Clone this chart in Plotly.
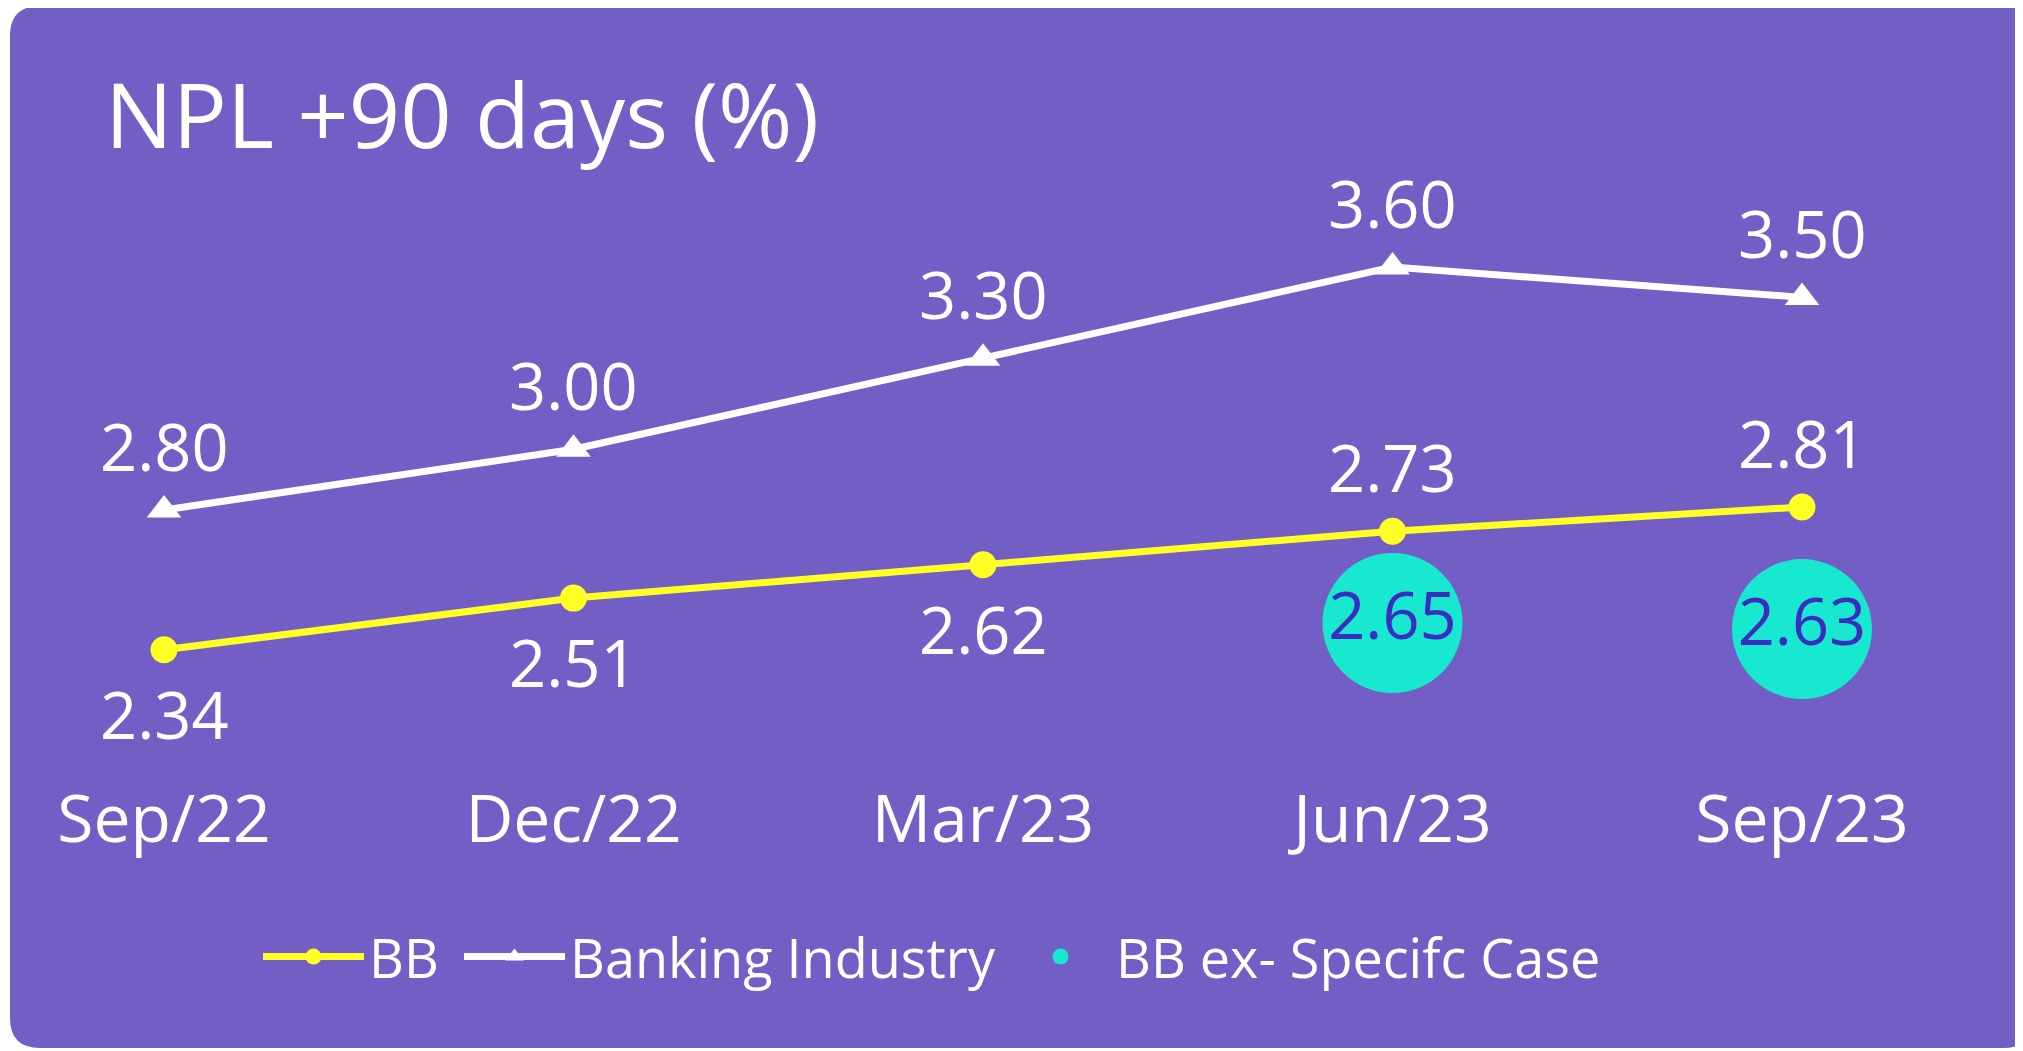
import plotly.graph_objects as go

# ---------------- data ----------------
categories = ["Sep/22", "Dec/22", "Mar/23", "Jun/23", "Sep/23"]
bb_values = [2.34, 2.51, 2.62, 2.73, 2.81]
banking_values = [2.80, 3.00, 3.30, 3.60, 3.50]
bb_ex_categories = ["Jun/23", "Sep/23"]
bb_ex_values = [2.65, 2.63]

series_names = ["BB", "Banking Industry", "BB ex- Specifc Case"]
title_text = "NPL +90 days (%)"

# ---------------- style ----------------
W, H = 2023, 1051
PURPLE = "#735EC6"
YELLOW = "#FFFF26"
WHITE = "#FFFFFF"
TEAL = "#19E8D1"
BUBBLE_TEXT = "#3A2DC0"
FONT = "Open Sans"

BB_LABEL_SIDE = [-1, -1, -1, 1, 1]   # -1 below, +1 above
LABEL_SHIFT = 64
LABEL_SIZE = 65

# plot area (figure pixels)
X_RANGE = [-0.38, 4.4]
X_DOMAIN_PX = [0.4, 1957.8]
Y_RANGE = [1.9276, 3.9852]
Y_DOMAIN_PX = [142, 767]       # top, bottom
BUBBLE_OFFSET = 0.222          # bubbles drawn below the BB line

fig = go.Figure()

fig.add_trace(go.Scatter(
    x=categories, y=bb_values, name=series_names[0],
    mode="lines+markers",
    line=dict(color=YELLOW, width=7),
    marker=dict(color=YELLOW, size=27, symbol="circle"),
    legendwidth=85,
    hoverinfo="skip",
))
fig.add_trace(go.Scatter(
    x=categories, y=banking_values, name=series_names[1],
    mode="lines+markers",
    line=dict(color=WHITE, width=7),
    marker=dict(color=WHITE, size=30, symbol="triangle-up"),
    legendwidth=430,
    hoverinfo="skip",
))
fig.add_trace(go.Scatter(
    x=bb_ex_categories, y=bb_ex_values, name=series_names[2],
    mode="markers+text", yaxis="y2",
    marker=dict(color=TEAL, size=140, line=dict(width=0)),
    text=[f"{v:.2f}" for v in bb_ex_values],
    textposition="middle center",
    textfont=dict(family=FONT, size=LABEL_SIZE, color=BUBBLE_TEXT),
    hoverinfo="skip",
))

annotations = []
for c, v in zip(categories, banking_values):
    annotations.append(dict(
        x=c, y=v, xref="x", yref="y", text=f"{v:.2f}", showarrow=False,
        yanchor="middle", xanchor="center", yshift=LABEL_SHIFT,
        font=dict(family=FONT, size=LABEL_SIZE, color=WHITE),
    ))
for c, v, side in zip(categories, bb_values, BB_LABEL_SIDE):
    annotations.append(dict(
        x=c, y=v, xref="x", yref="y", text=f"{v:.2f}", showarrow=False,
        yanchor="middle", xanchor="center", yshift=side * LABEL_SHIFT,
        font=dict(family=FONT, size=LABEL_SIZE, color=WHITE),
    ))
annotations.append(dict(
    x=95 / W, y=1 - 105 / H, xref="paper", yref="paper", text=title_text,
    showarrow=False, xanchor="left", yanchor="middle",
    font=dict(family=FONT, size=90, color=WHITE),
))

# rounded background panel
x0, x1 = 2 / W, 2025 / W
y0, y1 = 1 - 1040 / H, 1 + 2 / H
rx, ry = 30 / W, 30 / H
panel_path = (
    f"M{x0 + rx},{y1} L{x1 - rx},{y1} Q{x1},{y1} {x1},{y1 - ry} "
    f"L{x1},{y0 + ry} Q{x1},{y0} {x1 - rx},{y0} "
    f"L{x0 + rx},{y0} Q{x0},{y0} {x0},{y0 + ry} "
    f"L{x0},{y1 - ry} Q{x0},{y1} {x0 + rx},{y1} Z"
)

fig.update_layout(
    width=W, height=H,
    margin=dict(l=0, r=0, t=0, b=0),
    paper_bgcolor="white",
    plot_bgcolor="rgba(0,0,0,0)",
    font=dict(family=FONT, color=WHITE),
    shapes=[dict(type="path", path=panel_path, xref="paper", yref="paper",
                 fillcolor=PURPLE, line=dict(width=0), layer="below")],
    annotations=annotations,
    xaxis=dict(
        type="category", categoryorder="array", categoryarray=categories,
        range=X_RANGE, domain=[X_DOMAIN_PX[0] / W, X_DOMAIN_PX[1] / W],
        showgrid=False, zeroline=False, showline=False, ticks="",
        tickfont=dict(family=FONT, size=66, color=WHITE),
    ),
    yaxis=dict(
        range=Y_RANGE, domain=[1 - Y_DOMAIN_PX[1] / H, 1 - Y_DOMAIN_PX[0] / H],
        visible=False, showgrid=False, zeroline=False,
    ),
    yaxis2=dict(
        range=[Y_RANGE[0] + BUBBLE_OFFSET, Y_RANGE[1] + BUBBLE_OFFSET],
        overlaying="y", visible=False, showgrid=False, zeroline=False,
    ),
    showlegend=True,
    legend=dict(
        orientation="h", x=250 / W, xanchor="left", y=1 - 949 / H, yanchor="middle",
        font=dict(family=FONT, size=54, color=WHITE),
        bgcolor="rgba(0,0,0,0)", itemwidth=101, traceorder="normal",
    ),
)

fig.write_html("out.html")
